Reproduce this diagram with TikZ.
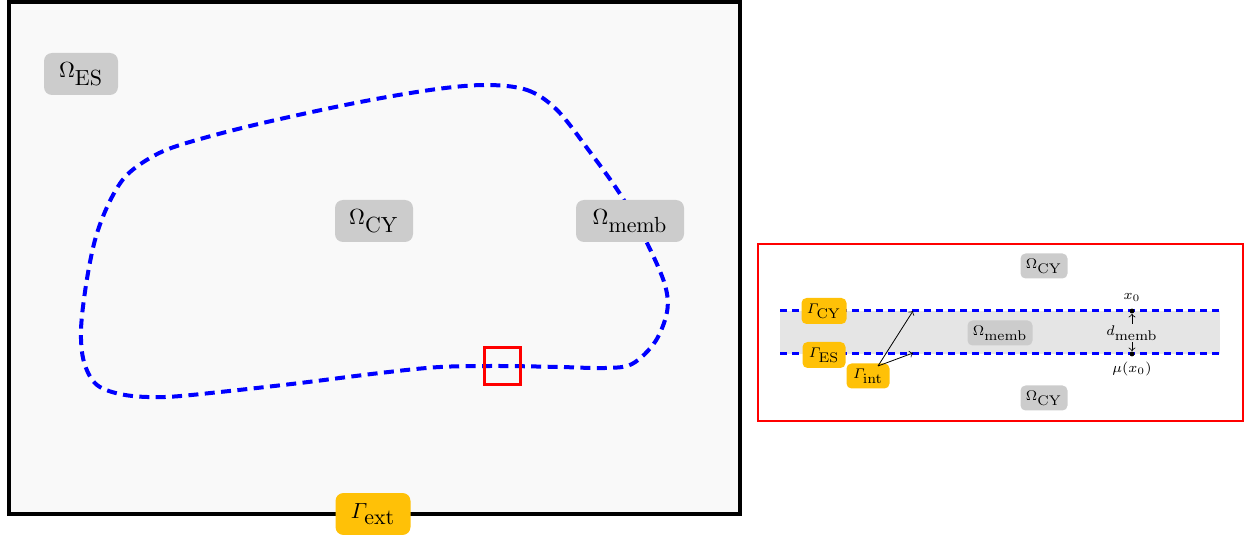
\documentclass[tikz,border=0pt]{standalone}
\usepackage{amsmath}
\definecolor{boxgray}{HTML}{CCCCCC}
\definecolor{bandgray}{HTML}{E5E5E5}
\definecolor{bggray}{HTML}{F9F9F9}
\definecolor{amber}{HTML}{FFC107}
\newcommand{\tsub}[2]{#1_{\textstyle\mathrm{#2}}}
\begin{document}
\begin{tikzpicture}[x=0.5pt,y=-0.5pt,
  bigbox/.style={rounded corners=4pt, minimum height=21pt, inner sep=1pt, font=\fontsize{11}{13}\selectfont},
  smallbox/.style={rounded corners=2.5pt, minimum height=12.5pt, inner sep=1pt, font=\fontsize{7.5}{9}\selectfont},
  omega/.style={fill=boxgray},
  gam/.style={fill=amber},
  membline/.style={blue, line width=2pt, dash pattern=on 5pt off 3.2pt},
  thinmemb/.style={blue, line width=1.5pt, dash pattern=on 3.5pt off 2.5pt},
  lbl/.style={font=\fontsize{7.5}{9}\selectfont, inner sep=1pt},
  pt/.style={circle, fill=black, inner sep=0pt, minimum size=2.4pt},
  arr/.style={->, >=to, line width=0.4pt}
]
\useasboundingbox (0,0) rectangle (1250,535);
% ---------------- left panel
\draw[line width=2pt, fill=bggray] (9,2) rectangle (740,514);
\draw[membline] plot[smooth cycle, tension=0.55] coordinates {
 (485,85) (527,90) (557,110) (590,152) (622,197) (648,245) (665,285) (667,312)
 (655,342) (632,364) (605,368) (560,367) (500,366) (440,367) (380,373) (300,383)
 (220,392) (165,397) (125,395) (97,385) (84,362) (81,330) (86,285) (95,240)
 (108,205) (125,177) (150,158) (180,145) (250,126) (350,104) (430,90)};
\draw[red, line width=1.5pt] (484,348) rectangle (520,385);
\node[bigbox, omega, minimum width=37pt] (oes) at (81,74) {$\tsub{\Omega}{ES}$};
\node[bigbox, omega, minimum width=39pt] (ocy) at (374,221) {$\tsub{\Omega}{CY}$};
\node[bigbox, omega, minimum width=54pt] (omemb) at (630,221) {$\tsub{\Omega}{memb}$};
\node[bigbox, gam, minimum width=37.5pt] (gext) at (373,514) {$\tsub{\varGamma}{ext}$};
% ---------------- right panel
\draw[red, line width=0.75pt] (758,244) rectangle (1243,421);
\fill[bandgray] (780,311) rectangle (1220,354);
\draw[thinmemb] (780,311) -- (1220,311);
\draw[thinmemb] (780,354) -- (1220,354);
\node[smallbox, omega, minimum width=23.5pt] (ocyt) at (1044,266) {$\tsub{\Omega}{CY}$};
\node[smallbox, omega, minimum width=23.5pt] (ocyb) at (1044,398) {$\tsub{\Omega}{CY}$};
\node[smallbox, omega, minimum width=32.5pt] (omembs) at (1000,333) {$\tsub{\Omega}{memb}$};
\node[smallbox, gam, minimum width=22.5pt, minimum height=13pt] (gcy) at (824,311) {$\tsub{\varGamma}{CY}$};
\node[smallbox, gam, minimum width=21.5pt, minimum height=13pt] (ges) at (824,355) {$\tsub{\varGamma}{ES}$};
\node[smallbox, gam, minimum width=21.5pt] (gint) at (868,376) {$\tsub{\varGamma}{int}$};
\coordinate (gs) at (878,366);
\coordinate (ecy) at (913,311);
\coordinate (ees) at (913,353);
\draw[arr] (gs) -- (ecy);
\draw[arr] (gs) -- (ees);
\node[pt] (x0) at (1132,311) {};
\node[pt] (mx0) at (1132,354) {};
\draw[<->, >=to, line width=0.4pt] (x0) -- (mx0);
\node[lbl, fill=bandgray] (dm) at (1132,333) {$\tsub{d}{memb}$};
\node[lbl] (x0l) at (1132,297) {$x_0$};
\node[lbl] (mx0l) at (1132,369) {$\mu(x_0)$};
\end{tikzpicture}
\end{document}
